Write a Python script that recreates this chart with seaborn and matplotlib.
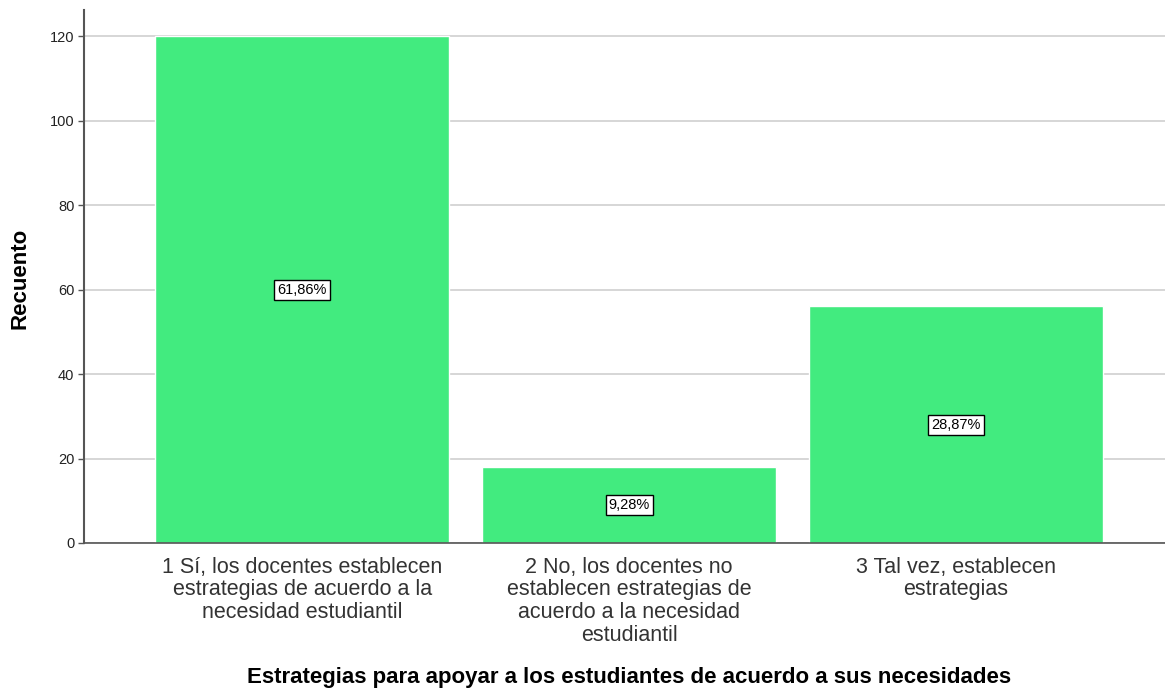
import matplotlib
matplotlib.use("Agg")
import matplotlib.pyplot as plt
import seaborn as sns
import pandas as pd

categories = [
    "1 Sí, los docentes establecen\nestrategias de acuerdo a la\nnecesidad estudiantil",
    "2 No, los docentes no\nestablecen estrategias de\nacuerdo a la necesidad\nestudiantil",
    "3 Tal vez, establecen\nestrategias",
]
counts = [120, 18, 56]
pct_labels = ["61,86%", "9,28%", "28,87%"]
y_ticks = [0, 20, 40, 60, 80, 100, 120]

sns.set_theme(style="white")
plt.rcParams['font.family'] = ['Liberation Sans', 'DejaVu Sans']

df = pd.DataFrame({"cat": categories, "n": counts})

fig = plt.figure(figsize=(11.65, 6.92), dpi=100)
ax = fig.add_axes([84/1165, 1-543/692, 1-84/1165, (543-10)/692])

ax.set_axisbelow(True)
ax.yaxis.grid(True, color="#cfcfcf", linewidth=1.2)
sns.barplot(data=df, x="cat", y="n", color="#42EB7F", saturation=1,
            width=0.9, ax=ax, zorder=2)

for i, (v, lab) in enumerate(zip(counts, pct_labels)):
    ax.text(i, v/2, lab, ha="center", va="center", fontsize=10.5, color="black",
            bbox=dict(boxstyle="square,pad=0.2", fc="white", ec="black", lw=1), zorder=5)

ax.set_xlim(-0.667, 2.639)
ax.set_ylim(0, 126.2)
ax.set_yticks(y_ticks)
ax.tick_params(axis="y", labelsize=10.5, length=4, width=1, color="#555555", left=True,
               pad=3, labelcolor="#222222")
ax.tick_params(axis="x", labelsize=15.5, length=0, pad=10, labelcolor="#333333")
for lab in ax.get_xticklabels():
    lab.set_linespacing(1.1)

for s in ["top", "right"]:
    ax.spines[s].set_visible(False)
ax.spines["left"].set_color("#555555")
ax.spines["left"].set_linewidth(1.5)
ax.spines["bottom"].set_color("#555555")
ax.spines["bottom"].set_linewidth(1.2)

ax.set_ylabel("")
ax.set_xlabel("")
fig.text(20/1165, 1-278/692, "Recuento", rotation=90, ha="center", va="center",
         fontsize=16, fontweight="bold", color="black")
fig.text(629/1165, 1-678/692,
         "Estrategias para apoyar a los estudiantes de acuerdo a sus necesidades",
         ha="center", va="center", fontsize=16, fontweight="bold", color="black")

fig.savefig("out.png", dpi=100, facecolor="white")
